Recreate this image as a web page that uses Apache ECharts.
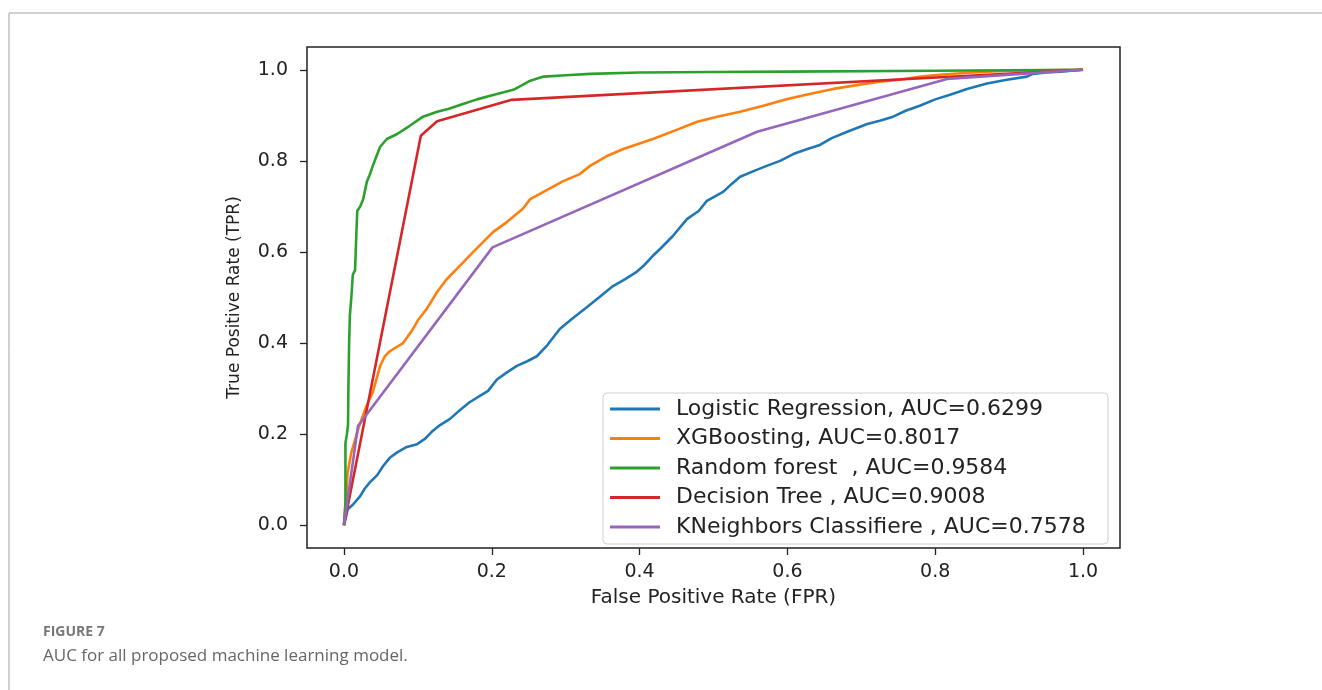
<!DOCTYPE html>
<html>
<head>
<meta charset="utf-8">
<script src="https://cdn.jsdelivr.net/npm/echarts@6/dist/echarts.min.js"></script>
<style>
  html, body { margin: 0; padding: 0; background: #fff; }
  #chart { width: 1322px; height: 690px; }
</style>
</head>
<body>
<div id="chart"></div>
<script>
// ROC points (fpr, tpr)
var lrFpr = [0, 0.003, 0.005, 0.012, 0.022, 0.028, 0.035, 0.045, 0.053, 0.062, 0.072, 0.085, 0.099, 0.11, 0.12, 0.13, 0.143, 0.155, 0.17, 0.185, 0.195, 0.207, 0.22, 0.234, 0.248, 0.261, 0.275, 0.292, 0.31, 0.329, 0.345, 0.364, 0.38, 0.395, 0.405, 0.417, 0.428, 0.445, 0.464, 0.48, 0.491, 0.513, 0.525, 0.536, 0.555, 0.572, 0.59, 0.608, 0.625, 0.644, 0.66, 0.681, 0.708, 0.725, 0.743, 0.76, 0.779, 0.8, 0.82, 0.843, 0.87, 0.897, 0.924, 0.932, 0.95, 0.969, 1];
var lrTpr = [0, 0.02, 0.035, 0.045, 0.064, 0.08, 0.094, 0.11, 0.13, 0.148, 0.16, 0.172, 0.178, 0.19, 0.207, 0.22, 0.233, 0.25, 0.27, 0.285, 0.295, 0.32, 0.335, 0.35, 0.36, 0.371, 0.395, 0.431, 0.455, 0.479, 0.5, 0.525, 0.54, 0.555, 0.569, 0.59, 0.607, 0.635, 0.672, 0.69, 0.712, 0.732, 0.75, 0.765, 0.778, 0.789, 0.8, 0.815, 0.825, 0.835, 0.85, 0.864, 0.881, 0.888, 0.897, 0.91, 0.921, 0.935, 0.945, 0.958, 0.97, 0.978, 0.985, 0.991, 0.994, 0.996, 1];

var xgbFpr = [0, 0.003, 0.005, 0.01, 0.02, 0.03, 0.039, 0.049, 0.055, 0.062, 0.08, 0.093, 0.1, 0.112, 0.126, 0.139, 0.16, 0.175, 0.202, 0.22, 0.242, 0.252, 0.27, 0.296, 0.319, 0.333, 0.355, 0.378, 0.418, 0.45, 0.478, 0.505, 0.536, 0.565, 0.6, 0.63, 0.662, 0.7, 0.725, 0.752, 0.78, 0.806, 0.85, 0.9, 1];
var xgbTpr = [0, 0.06, 0.116, 0.16, 0.215, 0.26, 0.292, 0.35, 0.37, 0.382, 0.4, 0.43, 0.45, 0.475, 0.512, 0.54, 0.575, 0.6, 0.644, 0.665, 0.695, 0.716, 0.732, 0.755, 0.771, 0.789, 0.81, 0.826, 0.848, 0.868, 0.886, 0.897, 0.908, 0.92, 0.936, 0.947, 0.958, 0.968, 0.974, 0.978, 0.985, 0.989, 0.994, 0.998, 1];

var rfFpr = [0, 0.002, 0.002, 0.004, 0.0055, 0.006, 0.007, 0.008, 0.01, 0.012, 0.015, 0.017, 0.018, 0.022, 0.026, 0.031, 0.035, 0.039, 0.044, 0.049, 0.058, 0.072, 0.089, 0.107, 0.126, 0.141, 0.161, 0.18, 0.198, 0.229, 0.24, 0.252, 0.27, 0.3, 0.333, 0.4, 0.5, 0.6, 0.8, 1];
var rfTpr = [0, 0.05, 0.18, 0.2, 0.22, 0.3, 0.4, 0.46, 0.5, 0.55, 0.56, 0.65, 0.69, 0.7, 0.716, 0.754, 0.77, 0.789, 0.81, 0.831, 0.848, 0.859, 0.877, 0.897, 0.908, 0.914, 0.925, 0.935, 0.943, 0.956, 0.965, 0.976, 0.985, 0.988, 0.991, 0.994, 0.995, 0.996, 0.998, 1];

var dtFpr = [0, 0.104, 0.126, 0.227, 1];
var dtTpr = [0, 0.855, 0.887, 0.934, 1];

var knnFpr = [0, 0.019, 0.201, 0.559, 0.816, 1];
var knnTpr = [0, 0.218, 0.61, 0.864, 0.98, 1];

var modelNames = [
  'Logistic Regression, AUC=0.6299',
  'XGBoosting, AUC=0.8017',
  'Random forest  , AUC=0.9584',
  'Decision Tree , AUC=0.9008',
  'KNeighbors Classifiere , AUC=0.7578'
];
var colors = ['#1f77b4', '#ff7f0e', '#2ca02c', '#d62728', '#9467bd'];
var tickValues = [0, 0.2, 0.4, 0.6, 0.8, 1.0];

function zip(xs, ys) {
  return xs.map(function (x, i) { return [x, ys[i]]; });
}
var curves = [zip(lrFpr, lrTpr), zip(xgbFpr, xgbTpr), zip(rfFpr, rfTpr), zip(dtFpr, dtTpr), zip(knnFpr, knnTpr)];

var myChart = echarts.init(document.getElementById('chart'));
var font = 'DejaVu Sans';

var option = {
  animation: false,
  color: colors,
  grid: {
    left: 307, top: 47, width: 813, height: 501,
    show: true, borderColor: '#222', borderWidth: 1.5, backgroundColor: '#fff'
  },
  xAxis: {
    type: 'value', min: -0.05, max: 1.05,
    name: 'False Positive Rate (FPR)', nameLocation: 'middle', nameGap: 40,
    nameTextStyle: { fontFamily: font, fontSize: 20, color: '#222' },
    axisLine: { show: false, onZero: false },
    axisTick: { show: true, length: 7, customValues: tickValues, lineStyle: { color: '#222', width: 1.3 } },
    axisLabel: { customValues: tickValues, margin: 15, fontFamily: font, fontSize: 19, color: '#222',
      formatter: function (v) { return v.toFixed(1); } },
    splitLine: { show: false }
  },
  yAxis: {
    type: 'value', min: -0.05, max: 1.05,
    name: 'True Positive Rate (TPR)', nameLocation: 'middle', nameGap: 64,
    nameTextStyle: { fontFamily: font, fontSize: 17, color: '#222' },
    axisLine: { show: false, onZero: false },
    axisTick: { show: true, length: 7, customValues: tickValues, lineStyle: { color: '#222', width: 1.3 } },
    axisLabel: { customValues: tickValues, margin: 19, fontFamily: font, fontSize: 19, color: '#222',
      formatter: function (v) { return v.toFixed(1); } },
    splitLine: { show: false }
  },
  legend: {
    orient: 'vertical', left: 603, top: 393,
    padding: [5, 8, 6, 7],
    itemGap: 7.5, itemWidth: 50, itemHeight: 3, icon: 'rect',
    backgroundColor: '#fff', borderColor: '#d0d0d0', borderWidth: 1, borderRadius: 4,
    textStyle: { fontFamily: font, fontSize: 22, color: '#222', lineHeight: 21, width: 424, padding: [0, 0, 0, 11] },
    data: modelNames
  },
  series: curves.map(function (pts, i) {
    return {
      name: modelNames[i], type: 'line', data: pts,
      showSymbol: false, symbol: 'none',
      lineStyle: { width: 2.6, color: colors[i] },
      z: 2 + i
    };
  }),
  graphic: [
    { type: 'line', shape: { x1: 9, y1: 13, x2: 1322, y2: 13 }, style: { stroke: '#a0a0a0', lineWidth: 1 } },
    { type: 'line', shape: { x1: 9, y1: 13, x2: 9, y2: 690 }, style: { stroke: '#a0a0a0', lineWidth: 1 } },
    { type: 'text', left: 43, top: 625, style: { text: 'FIGURE 7', fontFamily: 'Open Sans', fontWeight: 'bold', fontSize: 14, fill: '#777' } },
    { type: 'text', left: 43, top: 648, style: { text: 'AUC for all proposed machine learning model.', fontFamily: 'Open Sans', fontSize: 17, fill: '#666' } }
  ]
};

myChart.setOption(option);
window.addEventListener('resize', function () { myChart.resize(); });
</script>
</body>
</html>
